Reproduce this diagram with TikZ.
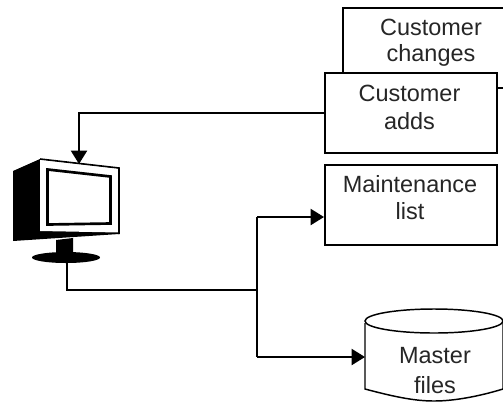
\documentclass[tikz,border=0pt]{standalone}
\usepackage{fontspec}
\setmainfont{Liberation Sans}
\usetikzlibrary{arrows.meta,calc}
\tikzset{
  boxnode/.style={draw=black,line width=1.5pt,fill=white,rectangle,minimum width=129pt,minimum height=60pt,inner sep=0pt},
  label text/.style={font=\fontsize{17.6pt}{21pt}\selectfont,text=black!85,inner sep=0pt,anchor=center},
  conn/.style={line width=1.5pt,black},
  arrowconn/.style={conn,-{Triangle[length=10pt,width=12pt,inset=0pt]}},
}
\begin{document}
\begin{tikzpicture}[x=0.75pt,y=-0.75pt]
\useasboundingbox (0,0) rectangle (503,401);
\clip (0,0) rectangle (503,401);
% back box (runs off the right edge)
\draw[line width=1.5pt] (343,80) -- (343,8) -- (510,8);
\draw[line width=1.5pt] (497,87.5) -- (510,87.5);
\node[label text] (tchanges1) at (431,27) {Customer};
\node[label text] (tchanges2) at (431,55) {changes};
% front boxes
\node[boxnode] (adds) at (411,113) {};
\node[label text] (tadds1) at (409.5,93) {Customer};
\node[label text] (tadds2) at (409.5,121) {adds};
\node[boxnode] (maint) at (411,205) {};
\node[label text] (tmaint1) at (410,184) {Maintenance};
\node[label text] (tmaint2) at (410,211) {list};
% cylinder
\coordinate (cylw) at (365,357);
\draw[line width=1.1pt,fill=white] (365,323) -- (365,389)
  .. controls (395,397) and (415,401) .. (434,401)
  .. controls (455,401) and (480,396) .. (503,389) -- (503,323);
\draw[line width=1.1pt,fill=white] (434,321) ellipse [x radius=69,y radius=12];
\node[label text] (tmaster1) at (435,356) {Master};
\node[label text] (tmaster2) at (435,385) {files};
% monitor
\fill[black] (13,171) -- (40,159) -- (119,168) -- (119,234) -- (13,241) -- cycle;
\fill[white] (40,159.5) -- (119,168.5) -- (119,232.5) -- (40,231) -- cycle;
\draw[line width=1.2pt] (40,159) -- (119,168) -- (119,234);
\draw[line width=2pt,fill=white] (47.5,169.5) -- (110.5,176.5) -- (110.5,223.5) -- (47.5,224.5) -- cycle;
\fill[black] (56,240) -- (73,238) -- (73,253) -- (56,255) -- cycle;
\fill[black] (66,257.5) ellipse [x radius=34,y radius=5.5];
\coordinate (monbase) at (67,261);
\coordinate (montop) at (79,164);
\coordinate (split) at (257,290);
\coordinate (upper) at (257,217);
\coordinate (lower) at (257,357);
% connectors
\draw[arrowconn] (adds.west) -| (montop);
\draw[conn] (monbase) |- (split);
\draw[conn] (upper) -- (lower);
\draw[arrowconn] (upper) -- ([yshift=-9pt]maint.west);
\draw[arrowconn] (lower) -- (cylw);
\end{tikzpicture}
\end{document}
